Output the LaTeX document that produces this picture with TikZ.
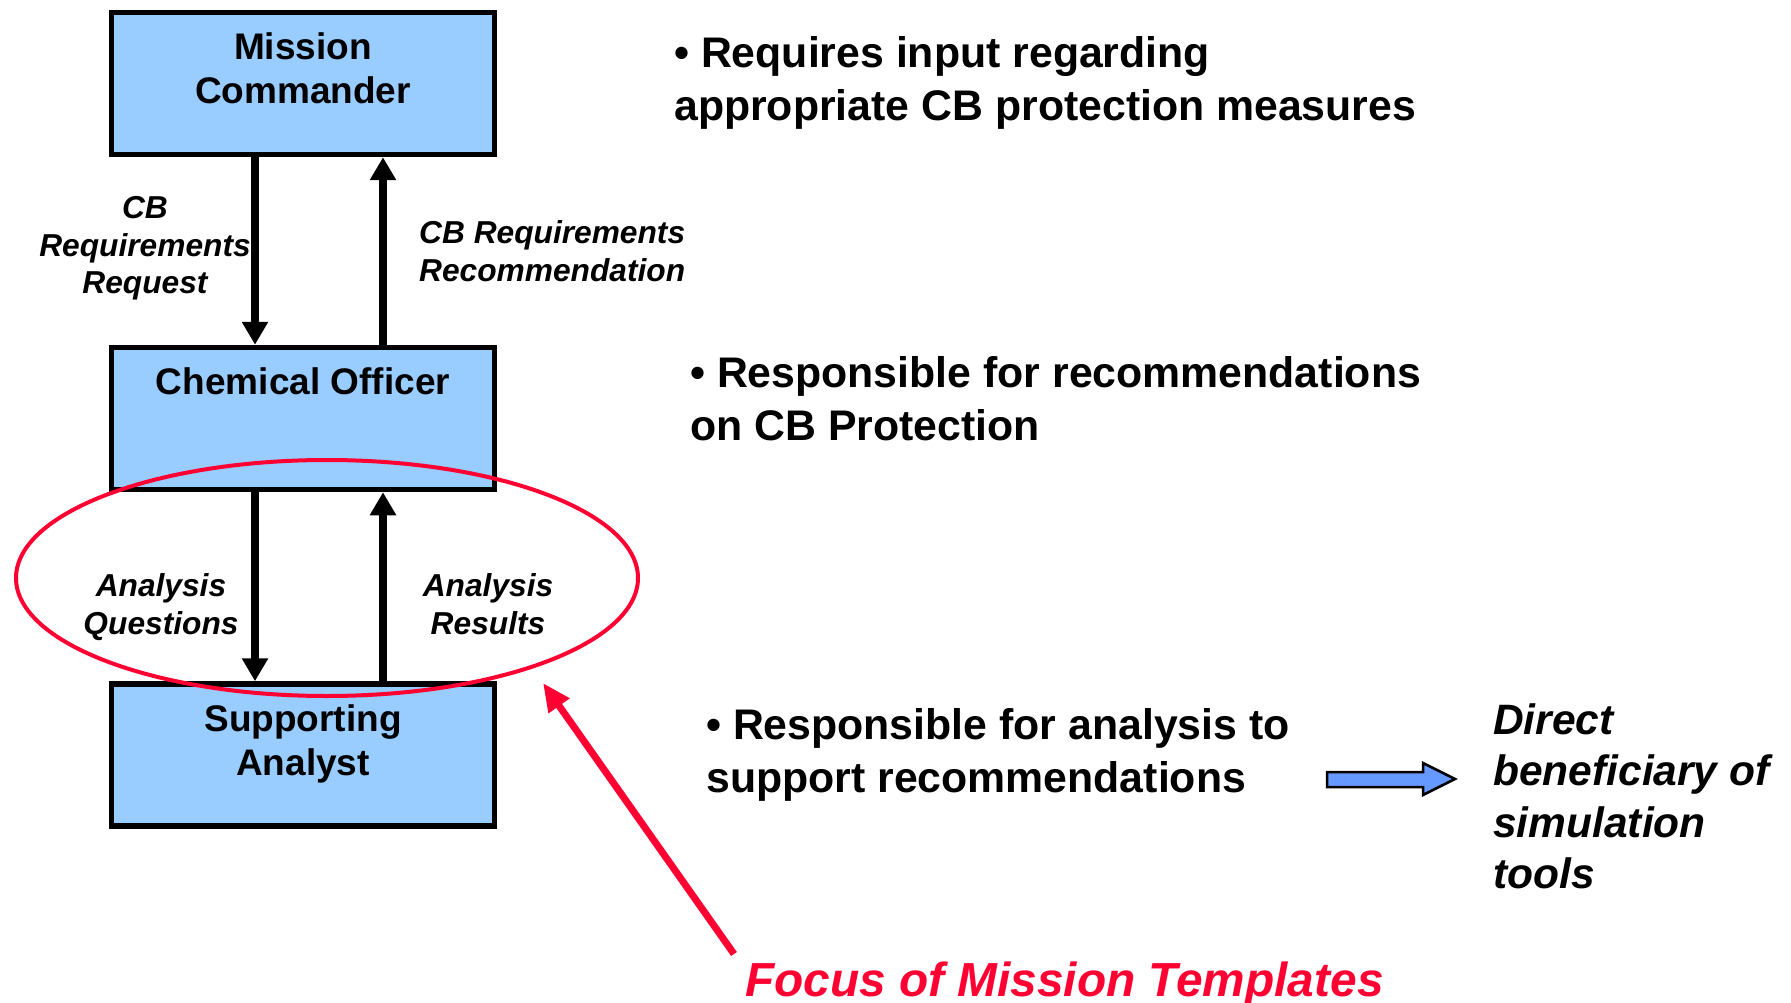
\documentclass[tikz,border=0pt]{standalone}
\usepackage{fontspec}
\setmainfont{Liberation Sans}
\usetikzlibrary{arrows.meta,shapes.geometric}
\definecolor{boxblue}{HTML}{99CCFF}
\definecolor{hotred}{HTML}{FF0033}
\definecolor{arrowblue}{HTML}{6699FF}
\tikzset{
  rolebox/.style={draw=black, line width=5.5pt, fill=boxblue, minimum width=383pt, minimum height=142pt, inner sep=0pt},
  roletext/.style={font=\fontsize{37}{44.5}\selectfont\bfseries, align=center, inner sep=0pt},
  flowlabel/.style={font=\fontsize{31.7}{37.7}\selectfont\bfseries\itshape, inner sep=0pt},
  note/.style={font=\fontsize{42.8}{52.5}\selectfont\bfseries, align=left, inner sep=0pt, anchor=west},
  flow/.style={line width=8.5pt, -{Triangle[length=23pt,width=25pt]}},
}
\begin{document}
\begin{tikzpicture}[x=1pt,y=-1pt]
\useasboundingbox (0,0) rectangle (1791,1003);

% the three roles
\node[rolebox] (mc) at (303,83.5) {};
\node[rolebox] (co) at (303,418.5) {};
\node[rolebox] (sa) at (303,755) {};
\node[roletext] (mct) at (303,68.5) {Mission\\Commander};
\node[roletext] (cot) at (303,381) {Chemical Officer};
\node[roletext] (sat) at (303,744) {Supporting\\Analyst};

% columns of the downward and upward flows
\coordinate (dn) at (255,0);
\coordinate (up) at (383,0);

\draw[flow] (mc.south -| dn) -- (co.north -| dn);
\draw[flow] (co.north -| up) -- (mc.south -| up);
\draw[flow] (co.south -| dn) -- (sa.north -| dn);
\draw[flow] (sa.north -| up) -- (co.south -| up);

\node[flowlabel, align=center] (req) at (145,248.5) {CB\\Requirements\\Request};
\node[flowlabel, align=left, anchor=west] (rec) at (419,251.5) {CB Requirements\\Recommendation};
\node[flowlabel, align=center] (aq) at (161,607) {Analysis\\Questions};
\node[flowlabel, align=center] (ar) at (488,604) {Analysis\\Results};

% highlighted region
\node[draw=hotred, line width=4pt, ellipse, minimum width=622pt, minimum height=236pt, inner sep=0pt] (focus) at (327,578) {};

% notes on the right
\node[note] (n1) at (674,83) {• Requires input regarding\\appropriate CB protection measures};
\node[note] (n2) at (690,398.5) {• Responsible for recommendations\\on CB Protection};
\node[note] (n3) at (706,755) {• Responsible for analysis to\\support recommendations};

\node[font=\fontsize{42.5}{51.4}\selectfont\bfseries\itshape, align=left, anchor=west, inner sep=0pt] (ben) at (1493,796.5) {Direct\\beneficiary of\\simulation\\tools};

% block arrow towards the beneficiary note
\draw[line width=2.5pt, fill=arrowblue, line join=miter]
  (1327,772) -- (1423,772) -- (1423,763) -- (1455,779) -- (1423,795) -- (1423,787) -- (1327,787) -- cycle;

% caption with its pointer
\node[font=\fontsize{47.8}{56}\selectfont\bfseries\itshape, text=hotred, anchor=west, inner sep=0pt] (cap) at (745,984) {Focus of Mission Templates};
\coordinate (ptail) at (734,954);
\coordinate (ptip) at (543,683);
\draw[hotred, line width=7pt, -{Triangle[length=28pt,width=24pt]}] (ptail) -- (ptip);
\end{tikzpicture}
\end{document}
